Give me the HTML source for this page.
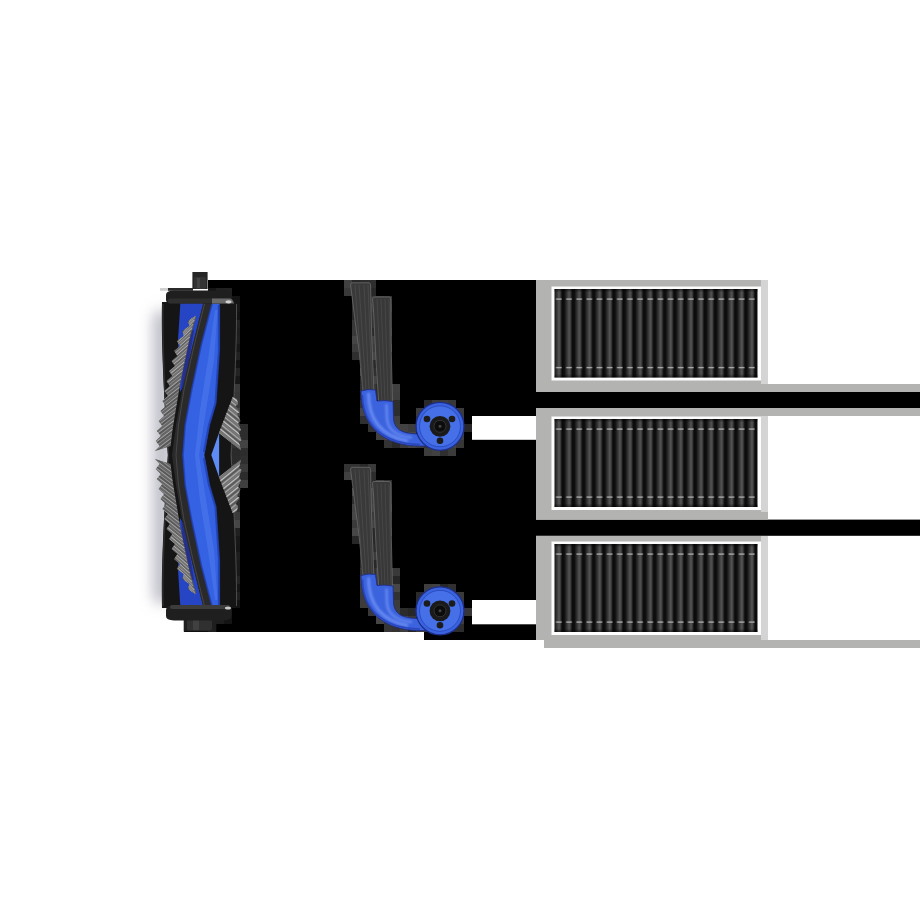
<!DOCTYPE html>
<html><head><meta charset="utf-8"><style>
html,body{margin:0;padding:0;background:#fff;width:920px;height:920px;overflow:hidden;font-family:"Liberation Sans",sans-serif;}
svg{display:block}
</style></head><body>
<svg width="920" height="920" viewBox="0 0 920 920">
<defs>
  <linearGradient id="pleat" x1="0" y1="0" x2="1" y2="0">
    <stop offset="0" stop-color="#0a0a0a"/>
    <stop offset="0.22" stop-color="#0e0e0e"/>
    <stop offset="0.55" stop-color="#3e3e3e"/>
    <stop offset="0.7" stop-color="#555"/>
    <stop offset="0.82" stop-color="#454545"/>
    <stop offset="1" stop-color="#0a0a0a"/>
  </linearGradient>
  <pattern id="pleats" x="551.9" y="0" width="10.15" height="920" patternUnits="userSpaceOnUse">
    <rect x="0" y="0" width="10.15" height="920" fill="url(#pleat)"/>
  </pattern>
  <pattern id="dashes" x="551.9" y="0" width="10.15" height="920" patternUnits="userSpaceOnUse">
    <rect x="4.2" y="0" width="5.6" height="920" fill="#a8a8a8"/>
  </pattern>
  <linearGradient id="pvshade" x1="0" y1="0" x2="0" y2="1">
    <stop offset="0" stop-color="#000" stop-opacity="0.5"/>
    <stop offset="0.04" stop-color="#000" stop-opacity="0"/>
    <stop offset="0.96" stop-color="#000" stop-opacity="0"/>
    <stop offset="1" stop-color="#000" stop-opacity="0.5"/>
  </linearGradient>
  <filter id="blur7" x="-200%" y="-50%" width="500%" height="200%"><feGaussianBlur stdDeviation="7"/></filter>
  <filter id="blur10" x="-200%" y="-50%" width="500%" height="200%"><feGaussianBlur stdDeviation="9"/></filter>
  <filter id="blur1" x="-50%" y="-50%" width="200%" height="200%"><feGaussianBlur stdDeviation="0.9"/></filter>
</defs>
<rect width="920" height="920" fill="#fff"/>
<g fill="#000">
  <rect x="208" y="280" width="328" height="352"/>
  <rect x="184" y="612" width="60" height="20"/>
  <rect x="424" y="600" width="112" height="40"/>
  <rect x="536" y="392" width="384" height="16"/>
  <rect x="536" y="519.6" width="384" height="16.2"/>
</g>
<rect x="472" y="416" width="64" height="23.8" fill="#fff"/>
<rect x="472" y="600" width="64" height="24.3" fill="#fff"/>
<rect x="536" y="280" width="232" height="112" fill="#b3b3b1"/><rect x="536" y="384" width="384" height="8" fill="#b3b3b1"/>
<rect x="761" y="280" width="7" height="104" fill="#d4d4d4"/>
<rect x="551.5" y="286.5" width="209.5" height="94.0" fill="#fdfdfd"/>
<g transform="translate(0,289)">
    <rect x="554.5" y="0" width="203" height="88.5" fill="url(#pleats)"/>
    <rect x="554.5" y="0" width="203" height="88.5" fill="url(#pvshade)"/>
    <rect x="554.5" y="9.4" width="203" height="1.4" fill="url(#dashes)"/>
    <rect x="554.5" y="77.9" width="203" height="1.4" fill="url(#dashes)"/>
  </g>
<rect x="536" y="408" width="232" height="111.6" fill="#b3b3b1"/><rect x="536" y="408" width="384" height="8" fill="#b3b3b1"/>
<rect x="761" y="416" width="7" height="96" fill="#d4d4d4"/>
<rect x="551.5" y="416.5" width="209.5" height="93.5" fill="#fdfdfd"/>
<g transform="translate(0,419)">
    <rect x="554.5" y="0" width="203" height="88" fill="url(#pleats)"/>
    <rect x="554.5" y="0" width="203" height="88" fill="url(#pvshade)"/>
    <rect x="554.5" y="9.4" width="203" height="1.4" fill="url(#dashes)"/>
    <rect x="554.5" y="77.4" width="203" height="1.4" fill="url(#dashes)"/>
  </g>
<rect x="536" y="536" width="232" height="104" fill="#b3b3b1"/><rect x="544" y="640" width="376" height="8" fill="#b3b3b1"/>
<rect x="761" y="536" width="7" height="104" fill="#d4d4d4"/>
<rect x="551.5" y="541.5" width="209.5" height="93.5" fill="#fdfdfd"/>
<g transform="translate(0,544)">
    <rect x="554.5" y="0" width="203" height="88" fill="url(#pleats)"/>
    <rect x="554.5" y="0" width="203" height="88" fill="url(#pvshade)"/>
    <rect x="554.5" y="9.4" width="203" height="1.4" fill="url(#dashes)"/>
    <rect x="554.5" y="77.4" width="203" height="1.4" fill="url(#dashes)"/>
  </g>
<rect x="153" y="310" width="18" height="294" rx="9" fill="#bcbcc6" filter="url(#blur7)"/><rect x="160" y="288" width="8" height="2.8" fill="#d0d0d0"/><rect x="168" y="288" width="25" height="2.8" fill="#2a2a2a"/>
<g id="artifacts"><rect x="344" y="280" width="8" height="8" fill="#414141"/><rect x="352" y="280" width="8" height="8" fill="#282828"/><rect x="360" y="280" width="8" height="8" fill="#2c2c2c"/><rect x="368" y="280" width="8" height="8" fill="#2e2e2e"/><rect x="208" y="288" width="8" height="8" fill="#151515"/><rect x="216" y="288" width="8" height="8" fill="#202020"/><rect x="224" y="288" width="8" height="8" fill="#212121"/><rect x="344" y="288" width="8" height="8" fill="#393939"/><rect x="368" y="288" width="8" height="8" fill="#272727"/><rect x="232" y="296" width="8" height="8" fill="#131313"/><rect x="352" y="296" width="8" height="8" fill="#313131"/><rect x="368" y="296" width="8" height="8" fill="#343434"/><rect x="376" y="296" width="8" height="8" fill="#3b3b3b"/><rect x="384" y="296" width="8" height="8" fill="#363636"/><rect x="232" y="304" width="8" height="8" fill="#161616"/><rect x="352" y="304" width="8" height="8" fill="#2b2b2b"/><rect x="368" y="304" width="8" height="8" fill="#3d3d3d"/><rect x="384" y="304" width="8" height="8" fill="#3e3e3e"/><rect x="232" y="312" width="8" height="8" fill="#121212"/><rect x="352" y="312" width="8" height="8" fill="#292929"/><rect x="368" y="312" width="8" height="8" fill="#353535"/><rect x="384" y="312" width="8" height="8" fill="#333333"/><rect x="232" y="320" width="8" height="8" fill="#212121"/><rect x="352" y="320" width="8" height="8" fill="#373737"/><rect x="368" y="320" width="8" height="8" fill="#343434"/><rect x="384" y="320" width="8" height="8" fill="#343434"/><rect x="232" y="328" width="8" height="8" fill="#1d1d1d"/><rect x="352" y="328" width="8" height="8" fill="#393939"/><rect x="368" y="328" width="8" height="8" fill="#2b2b2b"/><rect x="384" y="328" width="8" height="8" fill="#3f3f3f"/><rect x="232" y="336" width="8" height="8" fill="#1f1f1f"/><rect x="352" y="336" width="8" height="8" fill="#464646"/><rect x="368" y="336" width="8" height="8" fill="#404040"/><rect x="384" y="336" width="8" height="8" fill="#2f2f2f"/><rect x="232" y="344" width="8" height="8" fill="#171717"/><rect x="352" y="344" width="8" height="8" fill="#3c3c3c"/><rect x="368" y="344" width="8" height="8" fill="#3c3c3c"/><rect x="384" y="344" width="8" height="8" fill="#3d3d3d"/><rect x="232" y="352" width="8" height="8" fill="#212121"/><rect x="352" y="352" width="8" height="8" fill="#2f2f2f"/><rect x="368" y="352" width="8" height="8" fill="#454545"/><rect x="232" y="360" width="8" height="8" fill="#121212"/><rect x="368" y="360" width="8" height="8" fill="#282828"/><rect x="232" y="368" width="8" height="8" fill="#232323"/><rect x="360" y="368" width="8" height="8" fill="#464646"/><rect x="368" y="368" width="8" height="8" fill="#303030"/><rect x="376" y="368" width="8" height="8" fill="#2a2a2a"/><rect x="232" y="376" width="8" height="8" fill="#171717"/><rect x="360" y="376" width="8" height="8" fill="#272727"/><rect x="368" y="376" width="8" height="8" fill="#444444"/><rect x="376" y="376" width="8" height="8" fill="#3c3c3c"/><rect x="232" y="384" width="8" height="8" fill="#393939"/><rect x="360" y="384" width="8" height="8" fill="#2e2e2e"/><rect x="368" y="384" width="8" height="8" fill="#363636"/><rect x="376" y="384" width="8" height="8" fill="#2c2c2c"/><rect x="392" y="384" width="8" height="8" fill="#404040"/><rect x="232" y="392" width="8" height="8" fill="#363636"/><rect x="360" y="392" width="8" height="8" fill="#272727"/><rect x="376" y="392" width="8" height="8" fill="#2e2e2e"/><rect x="392" y="392" width="8" height="8" fill="#3e3e3e"/><rect x="232" y="400" width="8" height="8" fill="#373737"/><rect x="360" y="400" width="8" height="8" fill="#323232"/><rect x="392" y="400" width="8" height="8" fill="#2e2e2e"/><rect x="424" y="400" width="8" height="8" fill="#292929"/><rect x="432" y="400" width="8" height="8" fill="#3a3a3a"/><rect x="440" y="400" width="8" height="8" fill="#3c3c3c"/><rect x="448" y="400" width="8" height="8" fill="#373737"/><rect x="232" y="408" width="8" height="8" fill="#454545"/><rect x="360" y="408" width="8" height="8" fill="#454545"/><rect x="392" y="408" width="8" height="8" fill="#2d2d2d"/><rect x="416" y="408" width="8" height="8" fill="#3a3a3a"/><rect x="456" y="408" width="8" height="8" fill="#3b3b3b"/><rect x="232" y="416" width="8" height="8" fill="#2e2e2e"/><rect x="360" y="416" width="8" height="8" fill="#303030"/><rect x="368" y="416" width="8" height="8" fill="#363636"/><rect x="392" y="416" width="8" height="8" fill="#3f3f3f"/><rect x="416" y="416" width="8" height="8" fill="#2f2f2f"/><rect x="456" y="416" width="8" height="8" fill="#3e3e3e"/><rect x="232" y="424" width="8" height="8" fill="#3c3c3c"/><rect x="240" y="424" width="8" height="8" fill="#2d2d2d"/><rect x="368" y="424" width="8" height="8" fill="#333333"/><rect x="392" y="424" width="8" height="8" fill="#424242"/><rect x="400" y="424" width="8" height="8" fill="#424242"/><rect x="408" y="424" width="8" height="8" fill="#3c3c3c"/><rect x="464" y="424" width="8" height="8" fill="#262626"/><rect x="232" y="432" width="8" height="8" fill="#3d3d3d"/><rect x="240" y="432" width="8" height="8" fill="#2d2d2d"/><rect x="376" y="432" width="8" height="8" fill="#414141"/><rect x="384" y="432" width="8" height="8" fill="#454545"/><rect x="400" y="432" width="8" height="8" fill="#343434"/><rect x="408" y="432" width="8" height="8" fill="#464646"/><rect x="456" y="432" width="8" height="8" fill="#3f3f3f"/><rect x="232" y="440" width="8" height="8" fill="#313131"/><rect x="240" y="440" width="8" height="8" fill="#434343"/><rect x="384" y="440" width="8" height="8" fill="#333333"/><rect x="392" y="440" width="8" height="8" fill="#292929"/><rect x="400" y="440" width="8" height="8" fill="#3a3a3a"/><rect x="408" y="440" width="8" height="8" fill="#424242"/><rect x="416" y="440" width="8" height="8" fill="#3c3c3c"/><rect x="424" y="440" width="8" height="8" fill="#333333"/><rect x="448" y="440" width="8" height="8" fill="#444444"/><rect x="456" y="440" width="8" height="8" fill="#363636"/><rect x="224" y="448" width="8" height="8" fill="#333333"/><rect x="232" y="448" width="8" height="8" fill="#2a2a2a"/><rect x="240" y="448" width="8" height="8" fill="#2d2d2d"/><rect x="424" y="448" width="8" height="8" fill="#3d3d3d"/><rect x="432" y="448" width="8" height="8" fill="#414141"/><rect x="440" y="448" width="8" height="8" fill="#2f2f2f"/><rect x="448" y="448" width="8" height="8" fill="#3b3b3b"/><rect x="224" y="456" width="8" height="8" fill="#434343"/><rect x="232" y="456" width="8" height="8" fill="#2b2b2b"/><rect x="240" y="456" width="8" height="8" fill="#2f2f2f"/><rect x="232" y="464" width="8" height="8" fill="#373737"/><rect x="240" y="464" width="8" height="8" fill="#393939"/><rect x="344" y="464" width="8" height="8" fill="#333333"/><rect x="352" y="464" width="8" height="8" fill="#333333"/><rect x="360" y="464" width="8" height="8" fill="#2a2a2a"/><rect x="368" y="464" width="8" height="8" fill="#3a3a3a"/><rect x="232" y="472" width="8" height="8" fill="#454545"/><rect x="240" y="472" width="8" height="8" fill="#2c2c2c"/><rect x="344" y="472" width="8" height="8" fill="#414141"/><rect x="368" y="472" width="8" height="8" fill="#2c2c2c"/><rect x="232" y="480" width="8" height="8" fill="#272727"/><rect x="240" y="480" width="8" height="8" fill="#3f3f3f"/><rect x="368" y="480" width="8" height="8" fill="#2c2c2c"/><rect x="376" y="480" width="8" height="8" fill="#3f3f3f"/><rect x="384" y="480" width="8" height="8" fill="#313131"/><rect x="232" y="488" width="8" height="8" fill="#393939"/><rect x="352" y="488" width="8" height="8" fill="#454545"/><rect x="368" y="488" width="8" height="8" fill="#454545"/><rect x="384" y="488" width="8" height="8" fill="#363636"/><rect x="232" y="496" width="8" height="8" fill="#2c2c2c"/><rect x="352" y="496" width="8" height="8" fill="#2e2e2e"/><rect x="368" y="496" width="8" height="8" fill="#424242"/><rect x="384" y="496" width="8" height="8" fill="#3a3a3a"/><rect x="232" y="504" width="8" height="8" fill="#2b2b2b"/><rect x="352" y="504" width="8" height="8" fill="#444444"/><rect x="368" y="504" width="8" height="8" fill="#464646"/><rect x="384" y="504" width="8" height="8" fill="#464646"/><rect x="232" y="512" width="8" height="8" fill="#3b3b3b"/><rect x="352" y="512" width="8" height="8" fill="#474747"/><rect x="368" y="512" width="8" height="8" fill="#3a3a3a"/><rect x="384" y="512" width="8" height="8" fill="#373737"/><rect x="232" y="520" width="8" height="8" fill="#464646"/><rect x="352" y="520" width="8" height="8" fill="#3a3a3a"/><rect x="368" y="520" width="8" height="8" fill="#404040"/><rect x="384" y="520" width="8" height="8" fill="#313131"/><rect x="232" y="528" width="8" height="8" fill="#202020"/><rect x="352" y="528" width="8" height="8" fill="#474747"/><rect x="368" y="528" width="8" height="8" fill="#272727"/><rect x="384" y="528" width="8" height="8" fill="#383838"/><rect x="232" y="536" width="8" height="8" fill="#181818"/><rect x="352" y="536" width="8" height="8" fill="#272727"/><rect x="368" y="536" width="8" height="8" fill="#282828"/><rect x="232" y="544" width="8" height="8" fill="#161616"/><rect x="368" y="544" width="8" height="8" fill="#2c2c2c"/><rect x="232" y="552" width="8" height="8" fill="#1e1e1e"/><rect x="360" y="552" width="8" height="8" fill="#2d2d2d"/><rect x="368" y="552" width="8" height="8" fill="#3b3b3b"/><rect x="376" y="552" width="8" height="8" fill="#434343"/><rect x="232" y="560" width="8" height="8" fill="#1a1a1a"/><rect x="360" y="560" width="8" height="8" fill="#2a2a2a"/><rect x="368" y="560" width="8" height="8" fill="#282828"/><rect x="376" y="560" width="8" height="8" fill="#303030"/><rect x="232" y="568" width="8" height="8" fill="#191919"/><rect x="360" y="568" width="8" height="8" fill="#363636"/><rect x="368" y="568" width="8" height="8" fill="#303030"/><rect x="376" y="568" width="8" height="8" fill="#424242"/><rect x="392" y="568" width="8" height="8" fill="#393939"/><rect x="232" y="576" width="8" height="8" fill="#232323"/><rect x="360" y="576" width="8" height="8" fill="#454545"/><rect x="376" y="576" width="8" height="8" fill="#3e3e3e"/><rect x="392" y="576" width="8" height="8" fill="#262626"/><rect x="232" y="584" width="8" height="8" fill="#151515"/><rect x="360" y="584" width="8" height="8" fill="#3f3f3f"/><rect x="376" y="584" width="8" height="8" fill="#383838"/><rect x="392" y="584" width="8" height="8" fill="#464646"/><rect x="424" y="584" width="8" height="8" fill="#3e3e3e"/><rect x="432" y="584" width="8" height="8" fill="#414141"/><rect x="440" y="584" width="8" height="8" fill="#272727"/><rect x="448" y="584" width="8" height="8" fill="#303030"/><rect x="232" y="592" width="8" height="8" fill="#1e1e1e"/><rect x="360" y="592" width="8" height="8" fill="#3b3b3b"/><rect x="392" y="592" width="8" height="8" fill="#323232"/><rect x="416" y="592" width="8" height="8" fill="#2b2b2b"/><rect x="456" y="592" width="8" height="8" fill="#3a3a3a"/><rect x="232" y="600" width="8" height="8" fill="#131313"/><rect x="360" y="600" width="8" height="8" fill="#3c3c3c"/><rect x="368" y="600" width="8" height="8" fill="#414141"/><rect x="392" y="600" width="8" height="8" fill="#3c3c3c"/><rect x="416" y="600" width="8" height="8" fill="#282828"/><rect x="456" y="600" width="8" height="8" fill="#373737"/><rect x="224" y="608" width="8" height="8" fill="#171717"/><rect x="368" y="608" width="8" height="8" fill="#383838"/><rect x="392" y="608" width="8" height="8" fill="#3d3d3d"/><rect x="400" y="608" width="8" height="8" fill="#2c2c2c"/><rect x="408" y="608" width="8" height="8" fill="#272727"/><rect x="464" y="608" width="8" height="8" fill="#363636"/><rect x="216" y="616" width="8" height="8" fill="#1d1d1d"/><rect x="224" y="616" width="8" height="8" fill="#141414"/><rect x="376" y="616" width="8" height="8" fill="#454545"/><rect x="384" y="616" width="8" height="8" fill="#363636"/><rect x="400" y="616" width="8" height="8" fill="#464646"/><rect x="408" y="616" width="8" height="8" fill="#383838"/><rect x="456" y="616" width="8" height="8" fill="#3e3e3e"/><rect x="208" y="624" width="8" height="8" fill="#1f1f1f"/><rect x="384" y="624" width="8" height="8" fill="#363636"/><rect x="392" y="624" width="8" height="8" fill="#333333"/><rect x="400" y="624" width="8" height="8" fill="#3c3c3c"/><rect x="408" y="624" width="8" height="8" fill="#262626"/><rect x="416" y="624" width="8" height="8" fill="#3b3b3b"/><rect x="424" y="624" width="8" height="8" fill="#373737"/><rect x="448" y="624" width="8" height="8" fill="#2b2b2b"/><rect x="456" y="624" width="8" height="8" fill="#2c2c2c"/></g>
<g id="roller"><rect x="192.4" y="272" width="15.2" height="17" fill="#262626"/>
  <rect x="194" y="277" width="12" height="12" rx="2" fill="#333"/>
  <rect x="197" y="278" width="3" height="10" fill="#444"/>
  <rect x="183.7" y="617" width="32.6" height="14.5" fill="#1e1e1e"/>
  <rect x="187" y="619" width="25" height="11.5" rx="2" fill="#303030"/>
  <rect x="193" y="620" width="6" height="10" fill="#404040"/>
  <path d="M162,302 C161,340 164,400 168,455 C164,510 161,570 162,608 L236.5,608 C237,570 234,510 231,455 C234,400 237,340 236.5,302 Z" fill="#151515"/>
  <path d="M236.5,304 C237,340 234,400 231,455 C234,510 237,570 236.5,606" stroke="#5a5a5a" stroke-width="0.8" fill="none"/>
  <path d="M163,304 C162,340 165,400 168.5,455 C165,510 162,570 163,606" stroke="#2e2e2e" stroke-width="1.5" fill="none"/>
<defs><clipPath id="lclip"><polygon points="193.6,311.0 196.0,318.0 189.5,340.0 180.0,385.0 172.5,430.0 170.5,446.0 154.8,451.0 154.8,451.0 159.8,446.0 155.8,441.0 160.9,436.0 156.9,431.0 162.3,426.0 158.7,421.0 164.1,416.0 160.6,411.0 166.0,406.0 162.5,401.0 167.9,396.0 164.4,391.0 169.8,386.0 166.5,381.0 172.3,376.0 169.1,371.0 174.9,366.0 171.6,361.0 177.4,356.0 174.2,351.0 180.0,346.0 176.7,341.0 183.8,336.0 182.2,331.0 189.5,326.0 187.9,321.0 195.2,316.0"/></clipPath><clipPath id="rclip"><polygon points="232.7,397 237,399 238,404 235.5,406 239.5,412 237,414 240.5,421 238,423 241,430 238.5,432 241.5,440 239,442 241,450.2 218.9,433.1"/></clipPath></defs>
<g id="rtop"><polygon points="180.4,303 203.5,303 193,344 184,385 180,392 178,340" fill="#2645c4"/>
<polygon points="186,330 194,330 186,380 181,390" fill="#262a80" opacity="0.8"/>
<path d="M203,303.5 L193,344 L182,390 L176,425 L172,455 L182.6,455 L185.2,425 L191.7,390 L201.5,344 L212.3,303.5 Z" fill="#2a2a2a"/>
<path d="M212.3,303 L219.6,303 L219.4,349 L216,403 L209.6,425 L204.3,455 L182.6,455 L185.2,425 L191.7,390 L201.5,344 Z" fill="#3562e2"/>
<path d="M215,310 L217.5,310 L214,360 L206,410 L199,455 L195,455 L200,410 L208,360 Z" fill="#5a86f5" opacity="0.4"/>
<path d="M219,305 L219,350 L215.5,403 L209,425 L204,452" stroke="#1f3fb0" stroke-width="2.2" fill="none" opacity="0.8"/>
<path d="M212,304 L201.5,344 L191.7,390 L185.2,425 L183,455" stroke="#2140b8" stroke-width="1.6" fill="none" opacity="0.8"/>
<path d="M204.5,304 L194.5,344 L184,390 L178.5,425 L176,455" stroke="#4a4a4a" stroke-width="0.9" fill="none"/>
<polygon points="211.3,455 219.1,432.8 219.1,455" fill="#5e8cf5"/>
<polygon points="193.6,311.0 196.0,318.0 189.5,340.0 180.0,385.0 172.5,430.0 170.5,446.0 154.8,451.0 154.8,451.0 159.8,446.0 155.8,441.0 160.9,436.0 156.9,431.0 162.3,426.0 158.7,421.0 164.1,416.0 160.6,411.0 166.0,406.0 162.5,401.0 167.9,396.0 164.4,391.0 169.8,386.0 166.5,381.0 172.3,376.0 169.1,371.0 174.9,366.0 171.6,361.0 177.4,356.0 174.2,351.0 180.0,346.0 176.7,341.0 183.8,336.0 182.2,331.0 189.5,326.0 187.9,321.0 195.2,316.0" fill="#545454"/>
<g clip-path="url(#lclip)"><line x1="191.6" y1="313.0" x2="194.6" y2="299.0" stroke="#9a9a9a" stroke-width="1.1"/><line x1="191.6" y1="315.1" x2="194.6" y2="301.1" stroke="#7a7a7a" stroke-width="1.1"/><line x1="191.6" y1="317.2" x2="194.6" y2="303.2" stroke="#b0b0b0" stroke-width="1.1"/><line x1="190.9" y1="319.3" x2="195.0" y2="305.3" stroke="#666" stroke-width="1.1"/><line x1="189.7" y1="321.4" x2="195.8" y2="307.4" stroke="#9a9a9a" stroke-width="1.1"/><line x1="188.5" y1="323.5" x2="196.5" y2="309.5" stroke="#7a7a7a" stroke-width="1.1"/><line x1="187.2" y1="325.6" x2="196.8" y2="311.6" stroke="#b0b0b0" stroke-width="1.1"/><line x1="186.0" y1="327.7" x2="196.2" y2="313.7" stroke="#666" stroke-width="1.1"/><line x1="184.8" y1="329.8" x2="195.6" y2="315.8" stroke="#9a9a9a" stroke-width="1.1"/><line x1="183.6" y1="331.9" x2="195.0" y2="317.9" stroke="#7a7a7a" stroke-width="1.1"/><line x1="182.4" y1="334.0" x2="194.3" y2="320.0" stroke="#b0b0b0" stroke-width="1.1"/><line x1="181.2" y1="336.1" x2="193.7" y2="322.1" stroke="#666" stroke-width="1.1"/><line x1="180.0" y1="338.2" x2="193.1" y2="324.2" stroke="#9a9a9a" stroke-width="1.1"/><line x1="178.8" y1="340.3" x2="192.5" y2="326.3" stroke="#7a7a7a" stroke-width="1.1"/><line x1="177.6" y1="342.4" x2="191.9" y2="328.4" stroke="#b0b0b0" stroke-width="1.1"/><line x1="176.4" y1="344.5" x2="191.2" y2="330.5" stroke="#666" stroke-width="1.1"/><line x1="175.2" y1="346.6" x2="190.6" y2="332.6" stroke="#9a9a9a" stroke-width="1.1"/><line x1="174.6" y1="348.7" x2="190.1" y2="334.7" stroke="#7a7a7a" stroke-width="1.1"/><line x1="174.0" y1="350.8" x2="189.7" y2="336.8" stroke="#b0b0b0" stroke-width="1.1"/><line x1="173.5" y1="352.9" x2="189.3" y2="338.9" stroke="#666" stroke-width="1.1"/><line x1="173.0" y1="355.0" x2="188.8" y2="341.0" stroke="#9a9a9a" stroke-width="1.1"/><line x1="172.4" y1="357.1" x2="188.4" y2="343.1" stroke="#7a7a7a" stroke-width="1.1"/><line x1="171.9" y1="359.2" x2="187.9" y2="345.2" stroke="#b0b0b0" stroke-width="1.1"/><line x1="171.3" y1="361.3" x2="187.5" y2="347.3" stroke="#666" stroke-width="1.1"/><line x1="170.8" y1="363.4" x2="187.0" y2="349.4" stroke="#9a9a9a" stroke-width="1.1"/><line x1="170.3" y1="365.5" x2="186.6" y2="351.5" stroke="#7a7a7a" stroke-width="1.1"/><line x1="169.7" y1="367.6" x2="186.2" y2="353.6" stroke="#b0b0b0" stroke-width="1.1"/><line x1="169.2" y1="369.7" x2="185.7" y2="355.7" stroke="#666" stroke-width="1.1"/><line x1="168.7" y1="371.8" x2="185.3" y2="357.8" stroke="#9a9a9a" stroke-width="1.1"/><line x1="168.1" y1="373.9" x2="184.8" y2="359.9" stroke="#7a7a7a" stroke-width="1.1"/><line x1="167.6" y1="376.0" x2="184.4" y2="362.0" stroke="#b0b0b0" stroke-width="1.1"/><line x1="167.1" y1="378.1" x2="183.9" y2="364.1" stroke="#666" stroke-width="1.1"/><line x1="166.5" y1="380.2" x2="183.5" y2="366.2" stroke="#9a9a9a" stroke-width="1.1"/><line x1="166.0" y1="382.3" x2="183.0" y2="368.3" stroke="#7a7a7a" stroke-width="1.1"/><line x1="165.4" y1="384.4" x2="182.6" y2="370.4" stroke="#b0b0b0" stroke-width="1.1"/><line x1="164.9" y1="386.5" x2="182.2" y2="372.5" stroke="#666" stroke-width="1.1"/><line x1="164.4" y1="388.6" x2="181.7" y2="374.6" stroke="#8a8a8a" stroke-width="1.1"/><line x1="163.8" y1="390.7" x2="181.3" y2="376.7" stroke="#6a6a6a" stroke-width="1.1"/><line x1="163.3" y1="392.8" x2="180.9" y2="378.8" stroke="#a0a0a0" stroke-width="1.1"/><line x1="163.0" y1="394.9" x2="180.5" y2="380.9" stroke="#5a5a5a" stroke-width="1.1"/><line x1="162.6" y1="397.0" x2="180.2" y2="383.0" stroke="#8a8a8a" stroke-width="1.1"/><line x1="162.2" y1="399.1" x2="179.8" y2="385.1" stroke="#6a6a6a" stroke-width="1.1"/><line x1="161.8" y1="401.2" x2="179.5" y2="387.2" stroke="#a0a0a0" stroke-width="1.1"/><line x1="161.4" y1="403.3" x2="179.1" y2="389.3" stroke="#5a5a5a" stroke-width="1.1"/><line x1="161.0" y1="405.4" x2="178.8" y2="391.4" stroke="#8a8a8a" stroke-width="1.1"/><line x1="160.6" y1="407.5" x2="178.4" y2="393.5" stroke="#6a6a6a" stroke-width="1.1"/><line x1="160.2" y1="409.6" x2="178.1" y2="395.6" stroke="#a0a0a0" stroke-width="1.1"/><line x1="159.8" y1="411.7" x2="177.7" y2="397.7" stroke="#5a5a5a" stroke-width="1.1"/><line x1="159.4" y1="413.8" x2="177.4" y2="399.8" stroke="#8a8a8a" stroke-width="1.1"/><line x1="159.0" y1="415.9" x2="177.0" y2="401.9" stroke="#6a6a6a" stroke-width="1.1"/><line x1="158.6" y1="418.0" x2="176.7" y2="404.0" stroke="#a0a0a0" stroke-width="1.1"/><line x1="158.2" y1="420.1" x2="176.3" y2="406.1" stroke="#5a5a5a" stroke-width="1.1"/><line x1="157.8" y1="422.2" x2="176.0" y2="408.2" stroke="#8a8a8a" stroke-width="1.1"/><line x1="157.4" y1="424.3" x2="175.6" y2="410.3" stroke="#6a6a6a" stroke-width="1.1"/><line x1="157.0" y1="426.4" x2="175.3" y2="412.4" stroke="#a0a0a0" stroke-width="1.1"/><line x1="156.6" y1="428.5" x2="174.9" y2="414.5" stroke="#5a5a5a" stroke-width="1.1"/><line x1="156.2" y1="430.6" x2="174.6" y2="416.6" stroke="#8a8a8a" stroke-width="1.1"/><line x1="155.8" y1="432.7" x2="174.2" y2="418.7" stroke="#6a6a6a" stroke-width="1.1"/><line x1="155.4" y1="434.8" x2="173.9" y2="420.8" stroke="#a0a0a0" stroke-width="1.1"/><line x1="155.0" y1="436.9" x2="173.5" y2="422.9" stroke="#5a5a5a" stroke-width="1.1"/><line x1="154.8" y1="439.0" x2="173.2" y2="425.0" stroke="#8a8a8a" stroke-width="1.1"/><line x1="154.6" y1="441.1" x2="173.0" y2="427.1" stroke="#6a6a6a" stroke-width="1.1"/><line x1="154.4" y1="443.2" x2="172.7" y2="429.2" stroke="#a0a0a0" stroke-width="1.1"/><line x1="154.1" y1="445.3" x2="172.5" y2="431.3" stroke="#5a5a5a" stroke-width="1.1"/><line x1="153.9" y1="447.4" x2="172.2" y2="433.4" stroke="#8a8a8a" stroke-width="1.1"/><line x1="153.7" y1="449.5" x2="171.9" y2="435.5" stroke="#6a6a6a" stroke-width="1.1"/><line x1="153.5" y1="451.6" x2="171.7" y2="437.6" stroke="#a0a0a0" stroke-width="1.1"/><line x1="153.3" y1="453.7" x2="171.5" y2="439.7" stroke="#5a5a5a" stroke-width="1.1"/><line x1="153.0" y1="455.8" x2="171.5" y2="441.8" stroke="#8a8a8a" stroke-width="1.1"/><line x1="152.8" y1="457.9" x2="171.5" y2="443.9" stroke="#6a6a6a" stroke-width="1.1"/><line x1="152.8" y1="460.0" x2="171.5" y2="446.0" stroke="#a0a0a0" stroke-width="1.1"/><line x1="152.8" y1="462.1" x2="171.5" y2="448.1" stroke="#5a5a5a" stroke-width="1.1"/><line x1="152.8" y1="464.2" x2="171.5" y2="450.2" stroke="#8a8a8a" stroke-width="1.1"/></g>
<polygon points="232.7,397 237,399 238,404 235.5,406 239.5,412 237,414 240.5,421 238,423 241,430 238.5,432 241.5,440 239,442 241,450.2 218.9,433.1" fill="#6e6e6e"/>
<g clip-path="url(#rclip)"><line x1="214" y1="372.0" x2="246" y2="398.0" stroke="#c4c4c4" stroke-width="1.2"/><line x1="214" y1="374.6" x2="246" y2="400.6" stroke="#7a7a7a" stroke-width="1.2"/><line x1="214" y1="377.2" x2="246" y2="403.2" stroke="#a8a8a8" stroke-width="1.2"/><line x1="214" y1="379.8" x2="246" y2="405.8" stroke="#555" stroke-width="1.2"/><line x1="214" y1="382.4" x2="246" y2="408.4" stroke="#c4c4c4" stroke-width="1.2"/><line x1="214" y1="385.0" x2="246" y2="411.0" stroke="#7a7a7a" stroke-width="1.2"/><line x1="214" y1="387.6" x2="246" y2="413.6" stroke="#a8a8a8" stroke-width="1.2"/><line x1="214" y1="390.2" x2="246" y2="416.2" stroke="#555" stroke-width="1.2"/><line x1="214" y1="392.8" x2="246" y2="418.8" stroke="#c4c4c4" stroke-width="1.2"/><line x1="214" y1="395.4" x2="246" y2="421.4" stroke="#7a7a7a" stroke-width="1.2"/><line x1="214" y1="398.0" x2="246" y2="424.0" stroke="#a8a8a8" stroke-width="1.2"/><line x1="214" y1="400.6" x2="246" y2="426.6" stroke="#555" stroke-width="1.2"/><line x1="214" y1="403.2" x2="246" y2="429.2" stroke="#c4c4c4" stroke-width="1.2"/><line x1="214" y1="405.8" x2="246" y2="431.8" stroke="#7a7a7a" stroke-width="1.2"/><line x1="214" y1="408.4" x2="246" y2="434.4" stroke="#a8a8a8" stroke-width="1.2"/><line x1="214" y1="411.0" x2="246" y2="437.0" stroke="#555" stroke-width="1.2"/><line x1="214" y1="413.6" x2="246" y2="439.6" stroke="#c4c4c4" stroke-width="1.2"/><line x1="214" y1="416.2" x2="246" y2="442.2" stroke="#7a7a7a" stroke-width="1.2"/><line x1="214" y1="418.8" x2="246" y2="444.8" stroke="#a8a8a8" stroke-width="1.2"/><line x1="214" y1="421.4" x2="246" y2="447.4" stroke="#555" stroke-width="1.2"/><line x1="214" y1="424.0" x2="246" y2="450.0" stroke="#c4c4c4" stroke-width="1.2"/><line x1="214" y1="426.6" x2="246" y2="452.6" stroke="#7a7a7a" stroke-width="1.2"/><line x1="214" y1="429.2" x2="246" y2="455.2" stroke="#a8a8a8" stroke-width="1.2"/><line x1="214" y1="431.8" x2="246" y2="457.8" stroke="#555" stroke-width="1.2"/><line x1="214" y1="434.4" x2="246" y2="460.4" stroke="#c4c4c4" stroke-width="1.2"/><line x1="214" y1="437.0" x2="246" y2="463.0" stroke="#7a7a7a" stroke-width="1.2"/></g></g>
<use href="#rtop" transform="matrix(1,0,0,-1,0,910)"/>
<path d="M166,295 Q166,290.5 174,290.5 L223,290.5 Q232,290.5 232,295 L232,300 Q232,303.5 226,303.5 L172,303.5 Q166,303.5 166,300 Z" fill="#1f1f1f"/>
  <rect x="168" y="298.5" width="64" height="5" rx="2" fill="#2e2e2e"/>
  <path d="M212,298.5 L230,298.5 Q233,299 234,303.5 L212,303.5 Z" fill="#6a6a6a"/>
  <ellipse cx="228.5" cy="301.8" rx="3" ry="1.6" fill="#d0d0d0"/>
  <path d="M166,610 Q166,605 176,605 L223,605 Q231.5,605 231.5,610 L231.5,616 Q231.5,620.4 224,620.4 L174,620.4 Q166,620.4 166,616 Z" fill="#1f1f1f"/>
  <rect x="170" y="605" width="60" height="4" rx="2" fill="#3c3c3c"/>
  <ellipse cx="228" cy="608" rx="3" ry="1.5" fill="#c8c8c8"/></g>
<g id="brush1">
  <path d="M352,282.8 Q350.6,283 350.6,285 L352.5,300 L355,320 L359,350 L363,392 L373.9,392 L371.5,330 L370.6,285 Q370.4,282.8 369,282.8 Z" fill="#393939" stroke="#737373" stroke-width="0.7"/>
  <g stroke="#4c4c4c" stroke-width="0.8">
    <line x1="355" y1="285" x2="363" y2="390"/>
    <line x1="359" y1="285" x2="366" y2="390"/>
    <line x1="364" y1="285" x2="369" y2="390"/>
    <line x1="368" y1="285" x2="372" y2="390"/>
  </g>
  <path d="M374,297 Q372.5,297 372.5,299 L373.5,310 L376,360 L378.8,404 L392.5,404 L391,340 L390.8,299 Q390.8,297 389,297 Z" fill="#383838" stroke="#737373" stroke-width="0.7"/>
  <g stroke="#4a4a4a" stroke-width="0.8">
    <line x1="377" y1="299" x2="382" y2="402"/>
    <line x1="381" y1="299" x2="385" y2="402"/>
    <line x1="385" y1="299" x2="388" y2="402"/>
    <line x1="389" y1="299" x2="391" y2="402"/>
  </g>
  <path d="M361,391 Q368,388.5 375.5,390 L377,401 Q385,400 393,401.5 L393.5,418 C394,431 405,434 420,434 L432,434 L432,446 L420,446 C385,446 361,428 361,391 Z" fill="#3c63de" stroke="#1a2a88" stroke-width="0.8"/>
  <path d="M368.5,393 C368.5,418 380,436 408,441" stroke="#86a6ff" stroke-width="3" fill="none" opacity="0.6" filter="url(#blur1)"/>
  <path d="M386.5,404 L387,419 C388,430 396,436 412,437.5" stroke="#86a6ff" stroke-width="2.5" fill="none" opacity="0.55" filter="url(#blur1)"/>
  <path d="M362.5,395 C363,426 384,444 420,444.5" stroke="#2540b8" stroke-width="1.5" fill="none" opacity="0.8"/>
  <circle cx="440" cy="426.3" r="24" fill="#3b63e0" stroke="#1c2f8c" stroke-width="1.3"/>
  <circle cx="440" cy="426.3" r="20.5" fill="#4670e8" stroke="#2a4cc0" stroke-width="1"/>
  <circle cx="440" cy="426.3" r="10.4" fill="#1a1a1a"/>
  <circle cx="440" cy="426.3" r="6" fill="#0c0c0c" stroke="#333" stroke-width="1"/>
  <circle cx="440" cy="426.3" r="1.5" fill="#444"/>
  <circle cx="427" cy="419" r="3.3" fill="#1c1c1c"/>
  <circle cx="452" cy="419" r="3.3" fill="#1c1c1c"/>
  <circle cx="440" cy="440.8" r="3.3" fill="#1c1c1c"/>
</g>
<use href="#brush1" transform="translate(0,184.5)"/>
</svg>
</body></html>
